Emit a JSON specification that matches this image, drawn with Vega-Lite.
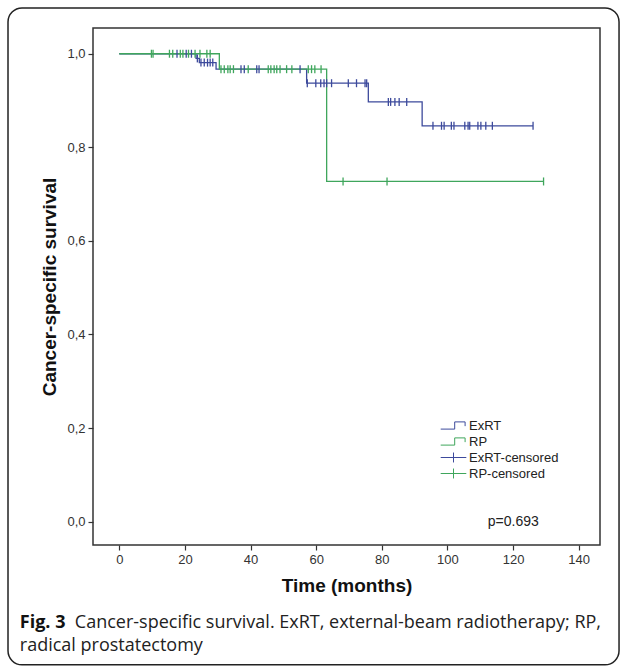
{
  "$schema": "https://vega.github.io/schema/vega-lite/v6.json",
  "width": 507,
  "height": 517,
  "autosize": {"type": "none"},
  "padding": {"left": 93, "top": 28, "right": 27, "bottom": 127},
  "background": "white",
  "config": {
    "view": {"stroke": "#333333", "strokeWidth": 1.5},
    "font": "Liberation Sans",
    "axis": {"grid": false, "domain": false, "tickColor": "#333333", "tickSize": 5, "tickWidth": 1.2, "labelColor": "#333333", "labelFontSize": 13, "labelFont": "Liberation Sans", "titleFont": "Liberation Sans", "titleFontSize": 19, "titleFontWeight": "bold", "titleColor": "#111111"}
  },
  "data": {"values": [
    {"grp": "ExRT", "t": 0, "s": 1.0},
    {"grp": "ExRT", "t": 23.4, "s": 0.99},
    {"grp": "ExRT", "t": 24.4, "s": 0.981},
    {"grp": "ExRT", "t": 29.5, "s": 0.967},
    {"grp": "ExRT", "t": 57.1, "s": 0.937},
    {"grp": "ExRT", "t": 75.9, "s": 0.897},
    {"grp": "ExRT", "t": 92.3, "s": 0.846},
    {"grp": "ExRT", "t": 126.1, "s": 0.846},
    {"grp": "RP", "t": 0, "s": 1.0},
    {"grp": "RP", "t": 30.5, "s": 0.967},
    {"grp": "RP", "t": 63.2, "s": 0.727},
    {"grp": "RP", "t": 129.3, "s": 0.727},
    {"grp": "ExRT-censored", "t": 17.6, "s": 1.0},
    {"grp": "ExRT-censored", "t": 20.4, "s": 1.0},
    {"grp": "ExRT-censored", "t": 22.0, "s": 1.0},
    {"grp": "ExRT-censored", "t": 23.8, "s": 0.99},
    {"grp": "ExRT-censored", "t": 24.9, "s": 0.981},
    {"grp": "ExRT-censored", "t": 25.9, "s": 0.981},
    {"grp": "ExRT-censored", "t": 26.9, "s": 0.981},
    {"grp": "ExRT-censored", "t": 27.7, "s": 0.981},
    {"grp": "ExRT-censored", "t": 28.5, "s": 0.981},
    {"grp": "ExRT-censored", "t": 37.1, "s": 0.967},
    {"grp": "ExRT-censored", "t": 38.1, "s": 0.967},
    {"grp": "ExRT-censored", "t": 41.9, "s": 0.967},
    {"grp": "ExRT-censored", "t": 42.6, "s": 0.967},
    {"grp": "ExRT-censored", "t": 55.1, "s": 0.967},
    {"grp": "ExRT-censored", "t": 57.3, "s": 0.937},
    {"grp": "ExRT-censored", "t": 59.9, "s": 0.937},
    {"grp": "ExRT-censored", "t": 61.4, "s": 0.937},
    {"grp": "ExRT-censored", "t": 62.4, "s": 0.937},
    {"grp": "ExRT-censored", "t": 63.2, "s": 0.937},
    {"grp": "ExRT-censored", "t": 64.7, "s": 0.937},
    {"grp": "ExRT-censored", "t": 69.8, "s": 0.937},
    {"grp": "ExRT-censored", "t": 72.3, "s": 0.937},
    {"grp": "ExRT-censored", "t": 74.9, "s": 0.937},
    {"grp": "ExRT-censored", "t": 75.4, "s": 0.937},
    {"grp": "ExRT-censored", "t": 82.0, "s": 0.897},
    {"grp": "ExRT-censored", "t": 82.7, "s": 0.897},
    {"grp": "ExRT-censored", "t": 84.0, "s": 0.897},
    {"grp": "ExRT-censored", "t": 85.3, "s": 0.897},
    {"grp": "ExRT-censored", "t": 87.6, "s": 0.897},
    {"grp": "ExRT-censored", "t": 95.6, "s": 0.846},
    {"grp": "ExRT-censored", "t": 98.2, "s": 0.846},
    {"grp": "ExRT-censored", "t": 99.0, "s": 0.846},
    {"grp": "ExRT-censored", "t": 101.2, "s": 0.846},
    {"grp": "ExRT-censored", "t": 102.0, "s": 0.846},
    {"grp": "ExRT-censored", "t": 105.3, "s": 0.846},
    {"grp": "ExRT-censored", "t": 106.3, "s": 0.846},
    {"grp": "ExRT-censored", "t": 106.8, "s": 0.846},
    {"grp": "ExRT-censored", "t": 109.3, "s": 0.846},
    {"grp": "ExRT-censored", "t": 110.2, "s": 0.846},
    {"grp": "ExRT-censored", "t": 111.7, "s": 0.846},
    {"grp": "ExRT-censored", "t": 113.7, "s": 0.846},
    {"grp": "ExRT-censored", "t": 126.1, "s": 0.846},
    {"grp": "RP-censored", "t": 9.8, "s": 1.0},
    {"grp": "RP-censored", "t": 10.3, "s": 1.0},
    {"grp": "RP-censored", "t": 15.3, "s": 1.0},
    {"grp": "RP-censored", "t": 16.3, "s": 1.0},
    {"grp": "RP-censored", "t": 18.6, "s": 1.0},
    {"grp": "RP-censored", "t": 19.4, "s": 1.0},
    {"grp": "RP-censored", "t": 21.1, "s": 1.0},
    {"grp": "RP-censored", "t": 23.1, "s": 1.0},
    {"grp": "RP-censored", "t": 24.6, "s": 1.0},
    {"grp": "RP-censored", "t": 26.7, "s": 1.0},
    {"grp": "RP-censored", "t": 27.7, "s": 1.0},
    {"grp": "RP-censored", "t": 31.0, "s": 0.967},
    {"grp": "RP-censored", "t": 32.0, "s": 0.967},
    {"grp": "RP-censored", "t": 33.1, "s": 0.967},
    {"grp": "RP-censored", "t": 33.8, "s": 0.967},
    {"grp": "RP-censored", "t": 34.8, "s": 0.967},
    {"grp": "RP-censored", "t": 39.3, "s": 0.967},
    {"grp": "RP-censored", "t": 45.4, "s": 0.967},
    {"grp": "RP-censored", "t": 46.2, "s": 0.967},
    {"grp": "RP-censored", "t": 47.2, "s": 0.967},
    {"grp": "RP-censored", "t": 48.0, "s": 0.967},
    {"grp": "RP-censored", "t": 49.0, "s": 0.967},
    {"grp": "RP-censored", "t": 51.0, "s": 0.967},
    {"grp": "RP-censored", "t": 52.6, "s": 0.967},
    {"grp": "RP-censored", "t": 57.6, "s": 0.967},
    {"grp": "RP-censored", "t": 58.6, "s": 0.967},
    {"grp": "RP-censored", "t": 59.6, "s": 0.967},
    {"grp": "RP-censored", "t": 61.5, "s": 0.967},
    {"grp": "RP-censored", "t": 68.2, "s": 0.727},
    {"grp": "RP-censored", "t": 81.6, "s": 0.727},
    {"grp": "RP-censored", "t": 129.3, "s": 0.727}
  ]},
  "layer": [
    {
      "data": {"values": [{}]},
      "mark": {"type": "rect", "fill": null, "fillOpacity": 0, "stroke": "#222222", "strokeWidth": 1.5, "cornerRadius": 14},
      "encoding": {
        "x": {"datum": -33.9, "type": "quantitative", "scale": {"domain": [-8, 146.5], "nice": false, "zero": false}},
        "x2": {"datum": 152.3},
        "y": {"datum": 1.098, "type": "quantitative", "scale": {"domain": [-0.05, 1.055], "nice": false, "zero": false}},
        "y2": {"datum": -0.306}
      }
    },
    {
      "transform": [{"filter": "datum.grp === 'ExRT'"}],
      "mark": {"type": "line", "interpolate": "step-after", "strokeWidth": 1.3},
      "encoding": {
        "x": {"field": "t", "type": "quantitative", "scale": {"domain": [-8, 146.5], "nice": false, "zero": false},
          "axis": {"values": [0, 20, 40, 60, 80, 100, 120, 140], "title": "Time (months)", "labelPadding": 3, "titlePadding": 10}},
        "y": {"field": "s", "type": "quantitative", "scale": {"domain": [-0.05, 1.055], "nice": false, "zero": false},
          "axis": {"values": [0, 0.2, 0.4, 0.6, 0.8, 1.0], "labelExpr": "replace(format(datum.value, '.1f'), '.', ',')", "title": "Cancer-specific survival", "labelPadding": 3, "titlePadding": 7}},
        "color": {"field": "grp", "type": "nominal",
          "scale": {"domain": ["ExRT", "RP", "ExRT-censored", "RP-censored"], "range": ["#3d4a9c", "#3fa65c", "#3d4a9c", "#3fa65c"]},
          "legend": {"orient": "none", "legendX": 352, "legendY": 389, "title": null, "symbolSize": 256, "labelFontSize": 13, "labelFont": "Liberation Sans", "labelColor": "#222222", "rowPadding": 0, "labelOffset": 7, "symbolStrokeWidth": 1,
            "encode": {"symbols": {"update": {
              "shape": {"signal": "(datum.value === 'ExRT' || datum.value === 'RP') ? 'M-1.6,0.45H0.15V-0.45H1.45V0.08' : 'M-1.6,0H1.6M0,-0.62V0.62'"},
              "fill": {"value": "transparent"},
              "stroke": {"scale": "color", "field": "value"},
              "strokeWidth": {"value": 1}
            }}}}}
      }
    },
    {
      "transform": [{"filter": "datum.grp === 'RP'"}],
      "mark": {"type": "line", "interpolate": "step-after", "strokeWidth": 1.3},
      "encoding": {
        "x": {"field": "t", "type": "quantitative"},
        "y": {"field": "s", "type": "quantitative"},
        "color": {"field": "grp", "type": "nominal"}
      }
    },
    {
      "transform": [{"filter": "indexof(datum.grp, 'censored') >= 0"}],
      "mark": {"type": "point", "shape": "M0,-1V1", "filled": false, "size": 64, "strokeWidth": 1.3, "opacity": 1},
      "encoding": {
        "x": {"field": "t", "type": "quantitative"},
        "y": {"field": "s", "type": "quantitative"},
        "color": {"field": "grp", "type": "nominal"}
      }
    },
    {
      "data": {"values": [{}]},
      "mark": {"type": "text", "align": "left", "baseline": "middle", "fontSize": 14, "font": "Liberation Sans", "color": "#222222"},
      "encoding": {
        "x": {"datum": 112.3, "type": "quantitative"},
        "y": {"datum": 0.0, "type": "quantitative"},
        "text": {"value": "p=0.693"}
      }
    },
    {
      "data": {"values": [{}]},
      "mark": {"type": "text", "align": "left", "baseline": "middle", "fontSize": 18, "font": "Open Sans", "fontWeight": "bold", "color": "#111111"},
      "encoding": {
        "x": {"datum": -30.3, "type": "quantitative"},
        "y": {"datum": -0.217, "type": "quantitative"},
        "text": {"value": "Fig. 3"}
      }
    },
    {
      "data": {"values": [{}]},
      "mark": {"type": "text", "align": "left", "baseline": "middle", "fontSize": 18, "font": "Open Sans", "color": "#222222", "dx": 55},
      "encoding": {
        "x": {"datum": -30.3, "type": "quantitative"},
        "y": {"datum": -0.217, "type": "quantitative"},
        "text": {"value": "Cancer-specific survival. ExRT, external-beam radiotherapy; RP,"}
      }
    },
    {
      "data": {"values": [{}]},
      "mark": {"type": "text", "align": "left", "baseline": "middle", "fontSize": 18, "font": "Open Sans", "color": "#222222"},
      "encoding": {
        "x": {"datum": -30.3, "type": "quantitative"},
        "y": {"datum": -0.266, "type": "quantitative"},
        "text": {"value": "radical prostatectomy"}
      }
    }
  ]
}
